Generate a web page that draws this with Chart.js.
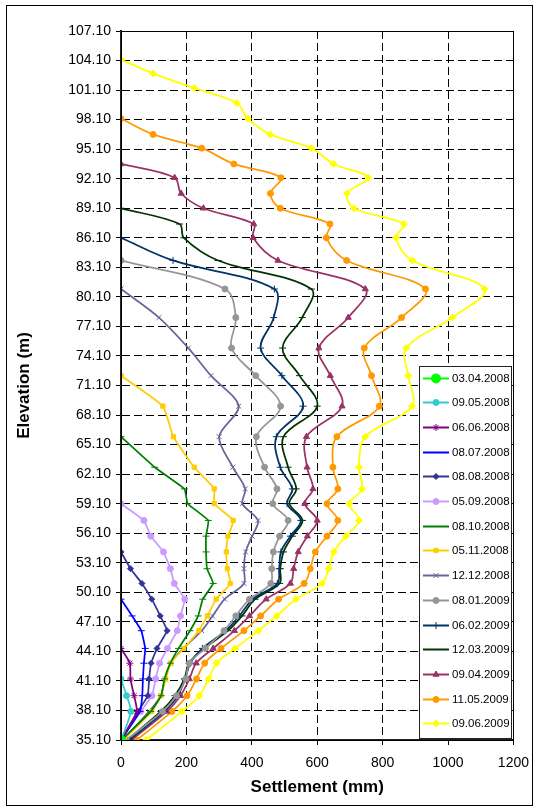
<!DOCTYPE html>
<html>
<head>
<meta charset="utf-8">
<script src="https://cdn.jsdelivr.net/npm/chart.js@4.4.1/dist/chart.umd.min.js"></script>
<style>
  html, body { margin: 0; padding: 0; background: #fff; }
  #wrap { width: 539px; height: 807px; }
</style>
</head>
<body>
<div id="wrap"><canvas id="chart" width="539" height="807"></canvas></div>
<script>
// ---------------------------------------------------------------
//  Data: elevations of the measuring levels (bottom -> top, m)
// ---------------------------------------------------------------
const ELEV = [35.1, 38.0, 39.6, 41.3, 42.9, 44.4, 46.2, 47.7, 49.4, 51.0, 52.5, 54.2,
              55.8, 57.4, 59.1, 60.6, 62.8, 65.9, 69.0, 72.1, 74.9, 78.0, 80.9, 83.8,
              86.1, 87.5, 89.1, 90.6, 92.2, 93.6, 95.2, 96.6, 98.2, 99.8, 101.3, 102.8, 104.2];

// Y tick labels (m) and X range (mm)
const Y_TICKS = [35.1, 38.1, 41.1, 44.1, 47.1, 50.1, 53.1, 56.1, 59.1, 62.1, 65.1, 68.1, 71.1,
                 74.1, 77.1, 80.1, 83.1, 86.1, 89.1, 92.1, 95.1, 98.1, 101.1, 104.1, 107.1];
const X_MIN = 0, X_MAX = 1200, X_STEP = 200;

// Settlement (mm) per survey date, one value per level starting at 35.10
const S_030408 = [0];
const S_090508 = [0, 30, 17, 0];
const S_060608 = [0, 48, 40, 29, 27, 0];
const S_080708 = [0, 58, 65, 67, 70, 74, 62, 34, 0];
const S_080808 = [0, 52, 82, 86, 92, 110, 141, 120, 94, 64, 29, 0];
const S_050908 = [0, 60, 95, 106, 118, 142, 172, 182, 195, 163, 151, 130, 91, 70, 0];
const S_081008 = [2, 91, 123, 133, 151, 176, 211, 236, 250, 282, 263, 260, 260, 267, 204, 194, 103, 0];
const S_051108 = [8, 94, 122, 137, 152, 192, 238, 264, 291, 334, 325, 322, 327, 343, 285, 285, 224, 160, 128, 0];
const S_121208 = [6, 86, 122, 134, 152, 190, 247, 280, 317, 376, 376, 381, 401, 419, 371, 380, 342, 300,
                  360, 275, 206, 116, 0];
const S_080109 = [16, 127, 170, 198, 209, 258, 315, 351, 393, 458, 461, 466, 485, 511, 464, 477, 439, 414,
                  488, 412, 338, 351, 318, 0];
const S_060209 = [26, 132, 174, 196, 212, 249, 320, 362, 403, 478, 484, 489, 518, 550, 508, 524, 487, 475,
                  557, 492, 427, 467, 469, 159, 0];
const S_120309 = [18, 122, 165, 194, 208, 255, 327, 370, 410, 485, 487, 497, 524, 555, 515, 536, 511, 497,
                  600, 546, 494, 554, 582, 297, 192, 179, 0];
const S_090409 = [32, 140, 182, 209, 230, 282, 347, 393, 444, 518, 528, 542, 570, 600, 562, 587, 569, 567,
                  676, 640, 605, 695, 747, 480, 404, 406, 252, 184, 164, 0];
const S_110509 = [48, 156, 202, 231, 256, 306, 376, 427, 482, 560, 579, 594, 630, 663, 630, 663, 648, 660,
                  790, 766, 744, 858, 931, 690, 628, 639, 487, 457, 489, 345, 247, 98, 0];
const S_090609 = [77, 186, 239, 268, 292, 349, 420, 476, 535, 615, 635, 651, 687, 728, 698, 737, 728, 747,
                  890, 878, 872, 1013, 1112, 891, 841, 865, 712, 691, 756, 650, 582, 456, 388, 354, 224, 98, 0];

const DATES = ["03.04.2008", "09.05.2008", "06.06.2008", "08.07.2008", "08.08.2008", "05.09.2008",
               "08.10.2008", "05.11.2008", "12.12.2008", "08.01.2009", "06.02.2009", "12.03.2009",
               "09.04.2009", "11.05.2009", "09.06.2009"];
const SETTLEMENTS = [S_030408, S_090508, S_060608, S_080708, S_080808, S_050908, S_081008, S_051108,
                     S_121208, S_080109, S_060209, S_120309, S_090409, S_110509, S_090609];

// ---------------------------------------------------------------
//  Series styling (Excel-ish palette and markers)
// ---------------------------------------------------------------
const STYLES = [
  { color: "#00ff00", point: "circle",   r: 4.5, tension: 0 },
  { color: "#33cccc", point: "circle",   r: 3,   tension: 0.3 },
  { color: "#800080", point: "star",     r: 3.5, tension: 0.2 },
  { color: "#0000ff", point: "line",     r: 3.5, tension: 0.1 },
  { color: "#333399", point: "rectRot",  r: 3,   tension: 0.1 },
  { color: "#cc99ff", point: "circle",   r: 3,   tension: 0.1 },
  { color: "#008000", point: "line",     r: 3.5, tension: 0.1 },
  { color: "#ffcc00", point: "rect",     r: 3,   tension: 0.15 },
  { color: "#666699", point: "crossRot", r: 3.5, tension: 0.3 },
  { color: "#969696", point: "circle",   r: 3,   tension: 0.35 },
  { color: "#003366", point: "cross",    r: 3.5, tension: 0.35 },
  { color: "#003300", point: "line",     r: 3.5, tension: 0.35 },
  { color: "#993366", point: "triangle", r: 3.5, tension: 0.35 },
  { color: "#ff9900", point: "circle",   r: 3,   tension: 0.35 },
  { color: "#ffff00", point: "rectRot",  r: 3.5, tension: 0.35 },
];

const FONT = "'Liberation Sans', Arial, sans-serif";
Chart.defaults.font.family = FONT;
Chart.defaults.color = "#000";

const datasets = DATES.map((label, i) => ({
  label,
  data: SETTLEMENTS[i].map((s, k) => ({ x: s, y: ELEV[k] })),
  showLine: true,
  borderColor: STYLES[i].color,
  backgroundColor: STYLES[i].color,
  borderWidth: 1.75,
  pointStyle: STYLES[i].point,
  pointRadius: STYLES[i].r,
  pointBorderWidth: 1,
  pointHoverRadius: STYLES[i].r,
  tension: STYLES[i].tension,
}));

// ---------------------------------------------------------------
//  Frame + legend box (drawn by hand, legend sits inside the plot)
// ---------------------------------------------------------------
const framePlugin = {
  id: "frame",
  afterDatasetsDraw(chart) {
    const c = chart.ctx;
    const a = chart.chartArea;
    c.save();
    // plot area top / right edges
    c.strokeStyle = "#000";
    c.lineWidth = 1;
    c.strokeRect(Math.round(a.left) + 0.5, Math.round(a.top) + 0.5,
                 Math.round(a.right - a.left), Math.round(a.bottom - a.top));

    // legend
    const lx = 419, ly = 366, lw = 92, lh = 372;
    c.fillStyle = "#fff";
    c.fillRect(lx, ly, lw, lh);
    c.strokeStyle = "#222";
    c.strokeRect(lx + 0.5, ly + 0.5, lw, lh);
    c.font = "11.5px " + FONT;
    c.textBaseline = "middle";
    c.textAlign = "left";
    chart.data.datasets.forEach((ds, i) => {
      const y = Math.round(ly + 11.5 + i * 24.7) + 0.5;
      c.strokeStyle = ds.borderColor;
      c.fillStyle = ds.borderColor;
      c.lineWidth = 2;
      c.beginPath();
      c.moveTo(423, y);
      c.lineTo(449, y);
      c.stroke();
      c.lineWidth = 1;
      Chart.helpers.drawPoint(c, { pointStyle: ds.pointStyle, radius: ds.pointRadius, borderWidth: 1, rotation: 0 }, 436, y);
      c.fillStyle = "#000";
      c.fillText(ds.label, 452, y + 0.5);
    });

    // outer chart border
    c.strokeStyle = "#000";
    c.lineWidth = 1;
    c.strokeRect(6.5, 5.5, 526, 800);
    c.restore();
  },
};

new Chart(document.getElementById("chart"), {
  type: "scatter",
  data: { datasets },
  options: {
    responsive: false,
    animation: false,
    layout: { padding: { left: 0, right: 22, top: 31, bottom: 0 } },
    plugins: { legend: { display: false }, tooltip: { enabled: false } },
    scales: {
      x: {
        type: "linear",
        min: X_MIN,
        max: X_MAX,
        ticks: { stepSize: X_STEP, padding: 10, font: { size: 14 }, color: "#000", callback: v => String(v) },
        grid: { color: "#000", lineWidth: 1, tickLength: 5, tickColor: "#000" },
        border: { display: true, color: "#222", width: 2, dash: [8, 4] },
        title: { display: true, text: "Settlement (mm)", font: { size: 17, weight: "bold" }, color: "#000",
                 padding: { top: 0, bottom: 9 } },
        afterFit: s => { s.height = 67; },
      },
      y: {
        type: "linear",
        min: Y_TICKS[0],
        max: Y_TICKS[Y_TICKS.length - 1],
        afterBuildTicks: axis => { axis.ticks = Y_TICKS.map(v => ({ value: v })); },
        ticks: { padding: 5, font: { size: 14 }, color: "#000", callback: v => Number(v).toFixed(2) },
        grid: { color: "#000", lineWidth: 1, tickLength: 5, tickColor: "#000" },
        border: { display: true, color: "#222", width: 2, dash: [8, 4] },
        title: { display: true, text: "Elevation (m)", font: { size: 17, weight: "bold" }, color: "#000",
                 padding: { top: 14, bottom: 0 } },
        afterFit: s => { s.width = 121; },
      },
    },
  },
  plugins: [framePlugin],
});
</script>
</body>
</html>
